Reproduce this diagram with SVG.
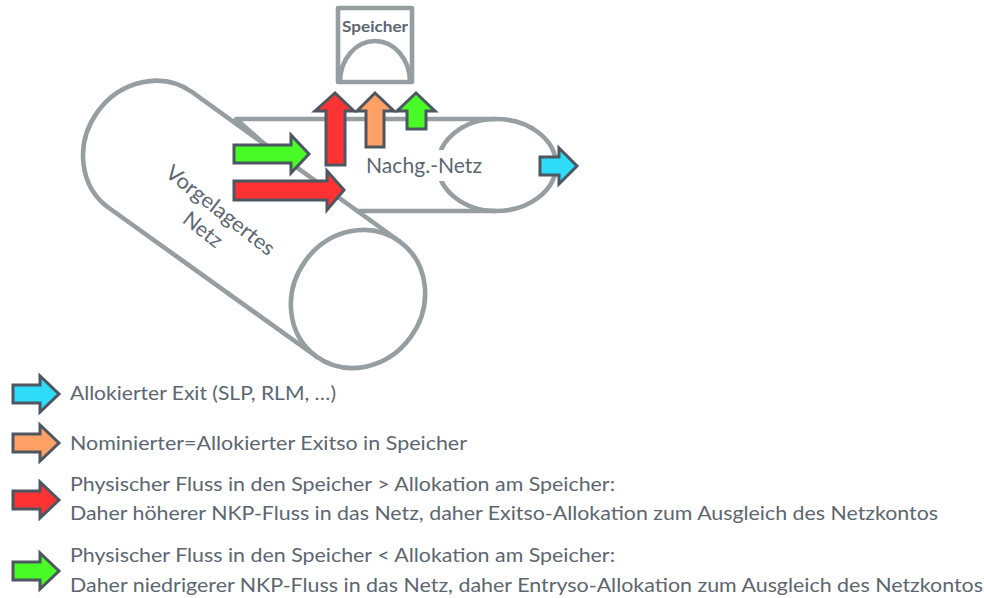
<svg xmlns="http://www.w3.org/2000/svg" width="984" height="598" viewBox="0 0 984 598">
<defs>
<style>
text{font-family:"Lato","Liberation Sans",sans-serif;fill:#5c6670;font-size:20px}
.pipe{fill:#fff;stroke:#979ea1;stroke-width:4.6;stroke-linejoin:round}
.line{fill:none;stroke:#979ea1;stroke-width:4.6}
.arr{stroke:#4c5761;stroke-width:3;stroke-linejoin:miter}
.cy{fill:#2fdcf7}.or{fill:#ffa066}.re{fill:#ff3333}.gr{fill:#48fb26}
</style>
<path id="leg" d="M0 -9H27V-18L46 0L27 18V9H0Z"/>
</defs>
<rect width="984" height="598" fill="#fff"/>
<g id="nachg-netz">
<path class="pipe" d="M236 119H496A60 46 0 0 1 496 211H340Z"/>
<path class="line" d="M496 119A58 46 0 0 0 496 211"/>
<rect x="360" y="150" width="124" height="31" fill="#fff"/>
<text x="366" y="173" style="font-size:21px" textLength="116" lengthAdjust="spacingAndGlyphs">Nachg.-Netz</text>
</g>
<g id="vorgelagertes-netz">
<path class="pipe" d="M192 92L399 241L317 357L109 208A65 71 36 0 1 192 92Z"/>
<ellipse class="pipe" cx="358" cy="299" rx="65" ry="71" transform="rotate(36 358 299)"/>
<g transform="translate(216 216) rotate(38)">
<text x="0" y="0" text-anchor="middle" style="font-size:21px" textLength="132" lengthAdjust="spacingAndGlyphs">Vorgelagertes</text>
<text x="-2" y="26" text-anchor="middle" style="font-size:21px">Netz</text>
</g>
</g>
<g id="speicher">
<rect class="pipe" x="338" y="8" width="74" height="74"/>
<path class="line" d="M340 82A35 41 0 0 1 410 82"/>
<text x="375" y="32" text-anchor="middle" style="font-size:15px;font-weight:700" textLength="66" lengthAdjust="spacingAndGlyphs">Speicher</text>
</g>
<g id="connectors">
<path class="arr gr" d="M234 145H291V135L309 154L291 173V163H234Z"/>
<path class="arr re" d="M234 181H327V171L344 190L327 210V200H234Z"/>
<path class="arr re" d="M326 165V111H315L335 93L354 111H345V165Z"/>
<path class="arr or" d="M366 147V111H357L375 93L394 111H384V147Z"/>
<path class="arr gr" d="M407 129V111H397L416 93L435 111H426V129Z"/>
<path class="arr cy" d="M540 157H559V148L577 166L559 184V175H540Z"/>
</g>
<g id="legend-allokiert">
<use href="#leg" class="arr cy" transform="translate(13 394)"/>
<text x="70" y="400" textLength="266" lengthAdjust="spacingAndGlyphs">Allokierter Exit (SLP, RLM, …)</text>
</g>
<g id="legend-nominiert">
<use href="#leg" class="arr or" transform="translate(13 443)"/>
<text x="70" y="450" textLength="397" lengthAdjust="spacingAndGlyphs">Nominierter=Allokierter Exitso in Speicher</text>
</g>
<g id="legend-rot">
<use href="#leg" class="arr re" transform="translate(13 500)"/>
<text x="70" y="491" textLength="545" lengthAdjust="spacingAndGlyphs">Physischer Fluss in den Speicher &gt; Allokation am Speicher:</text>
<text x="70" y="520" textLength="868" lengthAdjust="spacingAndGlyphs">Daher höherer NKP-Fluss in das Netz, daher Exitso-Allokation zum Ausgleich des Netzkontos</text>
</g>
<g id="legend-gruen">
<use href="#leg" class="arr gr" transform="translate(13 571)"/>
<text x="70" y="562" textLength="545" lengthAdjust="spacingAndGlyphs">Physischer Fluss in den Speicher &lt; Allokation am Speicher:</text>
<text x="70" y="592" textLength="913" lengthAdjust="spacingAndGlyphs">Daher niedrigerer NKP-Fluss in das Netz, daher Entryso-Allokation zum Ausgleich des Netzkontos</text>
</g>
</svg>
